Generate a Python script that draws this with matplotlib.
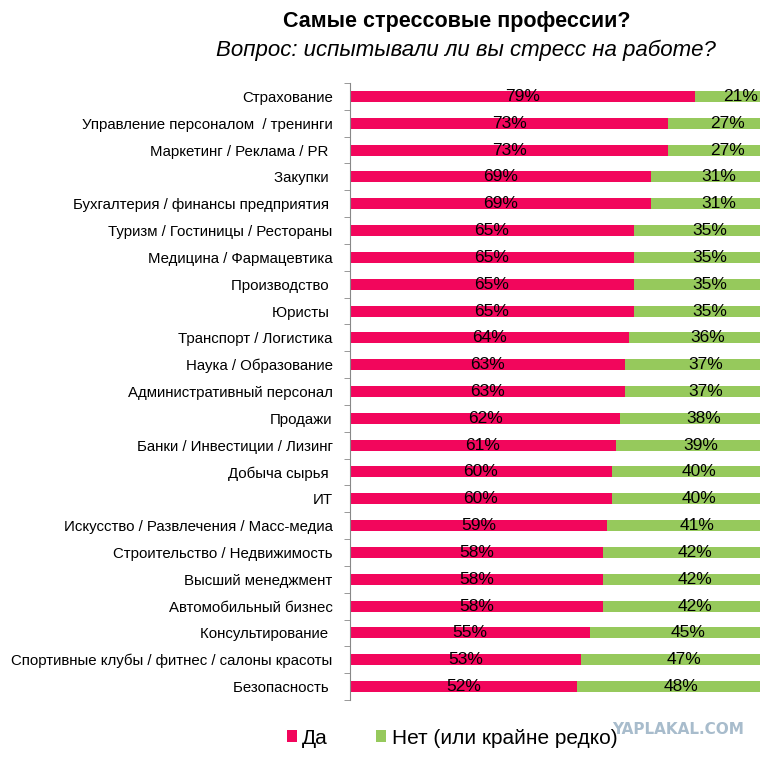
import matplotlib
matplotlib.use("Agg")
import matplotlib.pyplot as plt
import numpy as np
from matplotlib.patches import Patch
from matplotlib.ticker import FixedLocator

categories = [
    "Страхование",
    "Управление персоналом  / тренинги",
    "Маркетинг / Реклама / PR ",
    "Закупки ",
    "Бухгалтерия / финансы предприятия ",
    "Туризм / Гостиницы / Рестораны",
    "Медицина / Фармацевтика",
    "Производство ",
    "Юристы ",
    "Транспорт / Логистика",
    "Наука / Образование",
    "Административный персонал",
    "Продажи",
    "Банки / Инвестиции / Лизинг",
    "Добыча сырья ",
    "ИТ",
    "Искусство / Развлечения / Масс-медиа",
    "Строительство / Недвижимость",
    "Высший менеджмент",
    "Автомобильный бизнес",
    "Консультирование ",
    "Спортивные клубы / фитнес / салоны красоты",
    "Безопасность ",
]
yes_values = [79, 73, 73, 69, 69, 65, 65, 65, 65, 64, 63, 63, 62, 61, 60, 60, 59, 58, 58, 58, 55, 53, 52]
no_values = [21, 27, 27, 31, 31, 35, 35, 35, 35, 36, 37, 37, 38, 39, 40, 40, 41, 42, 42, 42, 45, 47, 48]
series_names = ["Да", "Нет (или крайне редко)"]

title = "Самые стрессовые профессии?"
subtitle = "Вопрос: испытывали ли вы стресс на работе?"

plt.rcParams['font.family'] = ['Liberation Sans', 'DejaVu Sans']

PINK = "#F2065C"
GREEN = "#96C95C"

fig = plt.figure(figsize=(7.7, 7.58), dpi=100)
ax = fig.add_axes([350/770, 1-700/758, 410/770, (700-83)/758])

y = np.arange(len(categories))
h = 0.41
ax.barh(y, yes_values, height=h, color=PINK)
ax.barh(y, no_values, left=yes_values, height=h, color=GREEN)

for yi, a, b in zip(y, yes_values, no_values):
    ax.text(a/2, yi, f"{a}%", ha="center", va="center", fontsize=12.5, color="black")
    ax.text(a + b/2, yi, f"{b}%", ha="center", va="center", fontsize=12.5, color="black")

ax.set_xlim(0, 94)
ax.set_ylim(len(categories)-0.5, -0.5)
ax.set_yticks(y)
ax.set_yticklabels(categories, fontsize=10.8)
ax.tick_params(axis="y", which="major", length=0, pad=12.5)
ax.yaxis.set_minor_locator(FixedLocator(np.arange(-0.5, len(categories), 1.0)))
ax.tick_params(axis="y", which="minor", length=4, color="#888888", direction="out")
ax.set_xticks([])
for s in ["top", "right", "bottom"]:
    ax.spines[s].set_visible(False)
ax.spines["left"].set_color("#888888")

fig.text(457/770, 1-22/758, title, ha="center", va="center", fontsize=15.5, fontweight="bold")
fig.text(466/770, 1-50/758, subtitle, ha="center", va="center", fontsize=16, style="italic")

handles = [Patch(facecolor=PINK, edgecolor="none"), Patch(facecolor=GREEN, edgecolor="none")]
fig.legend(handles, series_names, loc="center", bbox_to_anchor=(452/770, 1-738/758),
           ncol=2, frameon=False, fontsize=15, handlelength=0.5, handleheight=0.5,
           handletextpad=0.25, columnspacing=2.3)

fig.text(678/770, 1-729/758, "YAPLAKAL.COM", ha="center", va="center", fontsize=11,
         fontweight="bold", color="#A8BCCC", family="DejaVu Sans")

fig.savefig("out.png", dpi=100)
